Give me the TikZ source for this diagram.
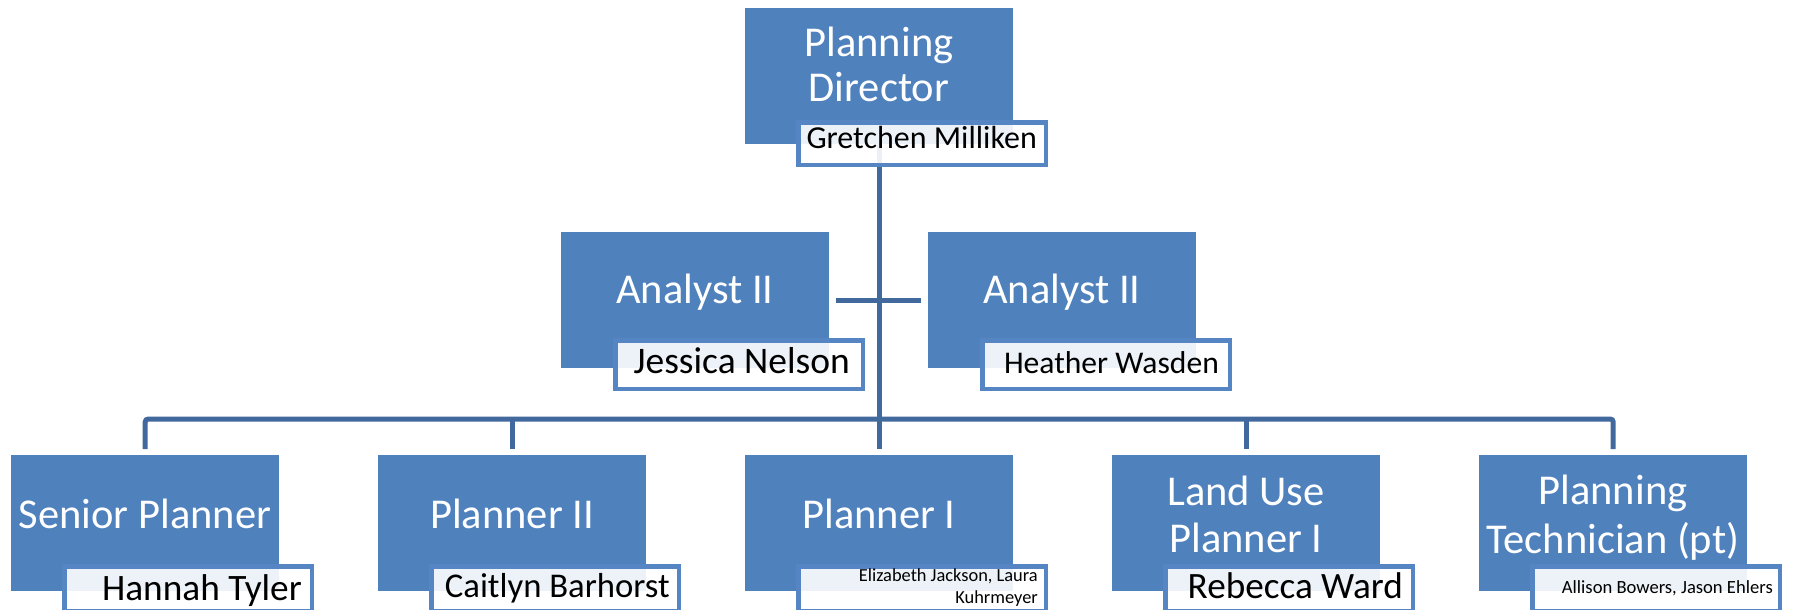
\documentclass[tikz,border=0pt]{standalone}
\usepackage{fontspec}
\setmainfont{Carlito}
\usetikzlibrary{calc}
\definecolor{boxblue}{HTML}{4F81BD}
\definecolor{namebd}{HTML}{5585C2}
\definecolor{connblue}{HTML}{41699D}
\begin{document}
\begin{tikzpicture}[x=1pt,y=-1pt,
  role/.style={rectangle, fill=boxblue, inner sep=0pt, minimum width=268pt, minimum height=136pt, anchor=north west},
  namebox/.style={rectangle, draw=namebd, line width=4.5pt, fill=white, fill opacity=0.9, inner sep=0pt, minimum width=247.5pt, anchor=north west},
  title/.style={text=white, inner sep=0pt, anchor=base, font=\fontsize{42.5}{45}\selectfont},
  person/.style={inner sep=0pt, anchor=base east, text=black},
  conn/.style={draw=connblue, line width=5pt, rounded corners=3pt}]
\useasboundingbox (0,0) rectangle (1794,610);
% role boxes
\node[role] (dir) at (745,8) {};
\node[role] (an1) at (561,232) {};
\node[role] (an2) at (928,232) {};
\node[role] (sp) at (11,455) {};
\node[role] (p2) at (378,455) {};
\node[role] (p1) at (745,455) {};
\node[role] (lu) at (1112,455) {};
\node[role] (pt) at (1479,455) {};
% connectors
\coordinate (bus) at (879,419);
\draw[conn] (dir.south) -- ($(p1.north)+(0,-6)$);
\draw[conn] ($(sp.north)+(0,-6)$) |- (bus) -| ($(pt.north)+(0,-6)$);
\draw[conn] ($(p2.north)+(0,-6)$) -- (p2.north |- bus);
\draw[conn] ($(lu.north)+(0,-6)$) -- (lu.north |- bus);
\draw[conn, rounded corners=0pt] ($(an1.east)+(7,0)$) -- ($(an2.west)+(-7,0)$);
% name boxes
\node[namebox, minimum height=42.5pt] (dirn) at (796.25,120.25) {};
\node[namebox, minimum height=48.5pt] (an1n) at (613.25,338.25) {};
\node[namebox, minimum height=48.5pt] (an2n) at (980.25,338.25) {};
\node[namebox, minimum height=44.5pt] (spn) at (62.25,564.25) {};
\node[namebox, minimum height=44.5pt] (p2n) at (429.25,564.25) {};
\node[namebox, minimum height=44.5pt] (p1n) at (796.25,564.25) {};
\node[namebox, minimum height=44.5pt] (lun) at (1163.25,564.25) {};
\node[namebox, minimum height=44.5pt] (ptn) at (1530.25,564.25) {};
% titles
\node[title] (dirt) at (879,57) {\begin{tabular}[t]{@{}c@{}}Planning\\Director\end{tabular}};
\node[title] (an1t) at (695,303) {Analyst II};
\node[title] (an2t) at (1062,303) {Analyst II};
\node[title] (spt) at (145,528) {Senior Planner};
\node[title] (p2t) at (512,528) {Planner II};
\node[title] (p1t) at (879,528) {Planner I};
\node[title, font=\fontsize{42.5}{47}\selectfont] (lut) at (1246,505) {\begin{tabular}[t]{@{}c@{}}Land Use\\Planner I\end{tabular}};
\node[title, font=\fontsize{42.5}{49}\selectfont] (ptt) at (1613,504) {\begin{tabular}[t]{@{}c@{}}Planning\\Technician (pt)\end{tabular}};
% person names
\node[person, font=\fontsize{32}{38}\selectfont] (dirp) at (1037,148) {Gretchen Milliken};
\node[person, font=\fontsize{37.5}{44}\selectfont] (an1p) at (850,373) {Jessica Nelson};
\node[person, font=\fontsize{31.6}{38}\selectfont] (an2p) at (1219,373) {Heather Wasden};
\node[person, font=\fontsize{37.3}{44}\selectfont] (spp) at (302,600) {Hannah Tyler};
\node[person, font=\fontsize{34.7}{41}\selectfont] (p2p) at (670,597) {Caitlyn Barhorst};
\node[person, font=\fontsize{18.4}{22}\selectfont] (p1p) at (1038,581) {\begin{tabular}[t]{@{}r@{}}Elizabeth Jackson, Laura\\Kuhrmeyer\end{tabular}};
\node[person, font=\fontsize{37.2}{44}\selectfont] (lup) at (1403,598) {Rebecca Ward};
\node[person, font=\fontsize{18.6}{22}\selectfont] (ptp) at (1773,593) {Allison Bowers, Jason Ehlers};
\end{tikzpicture}
\end{document}
